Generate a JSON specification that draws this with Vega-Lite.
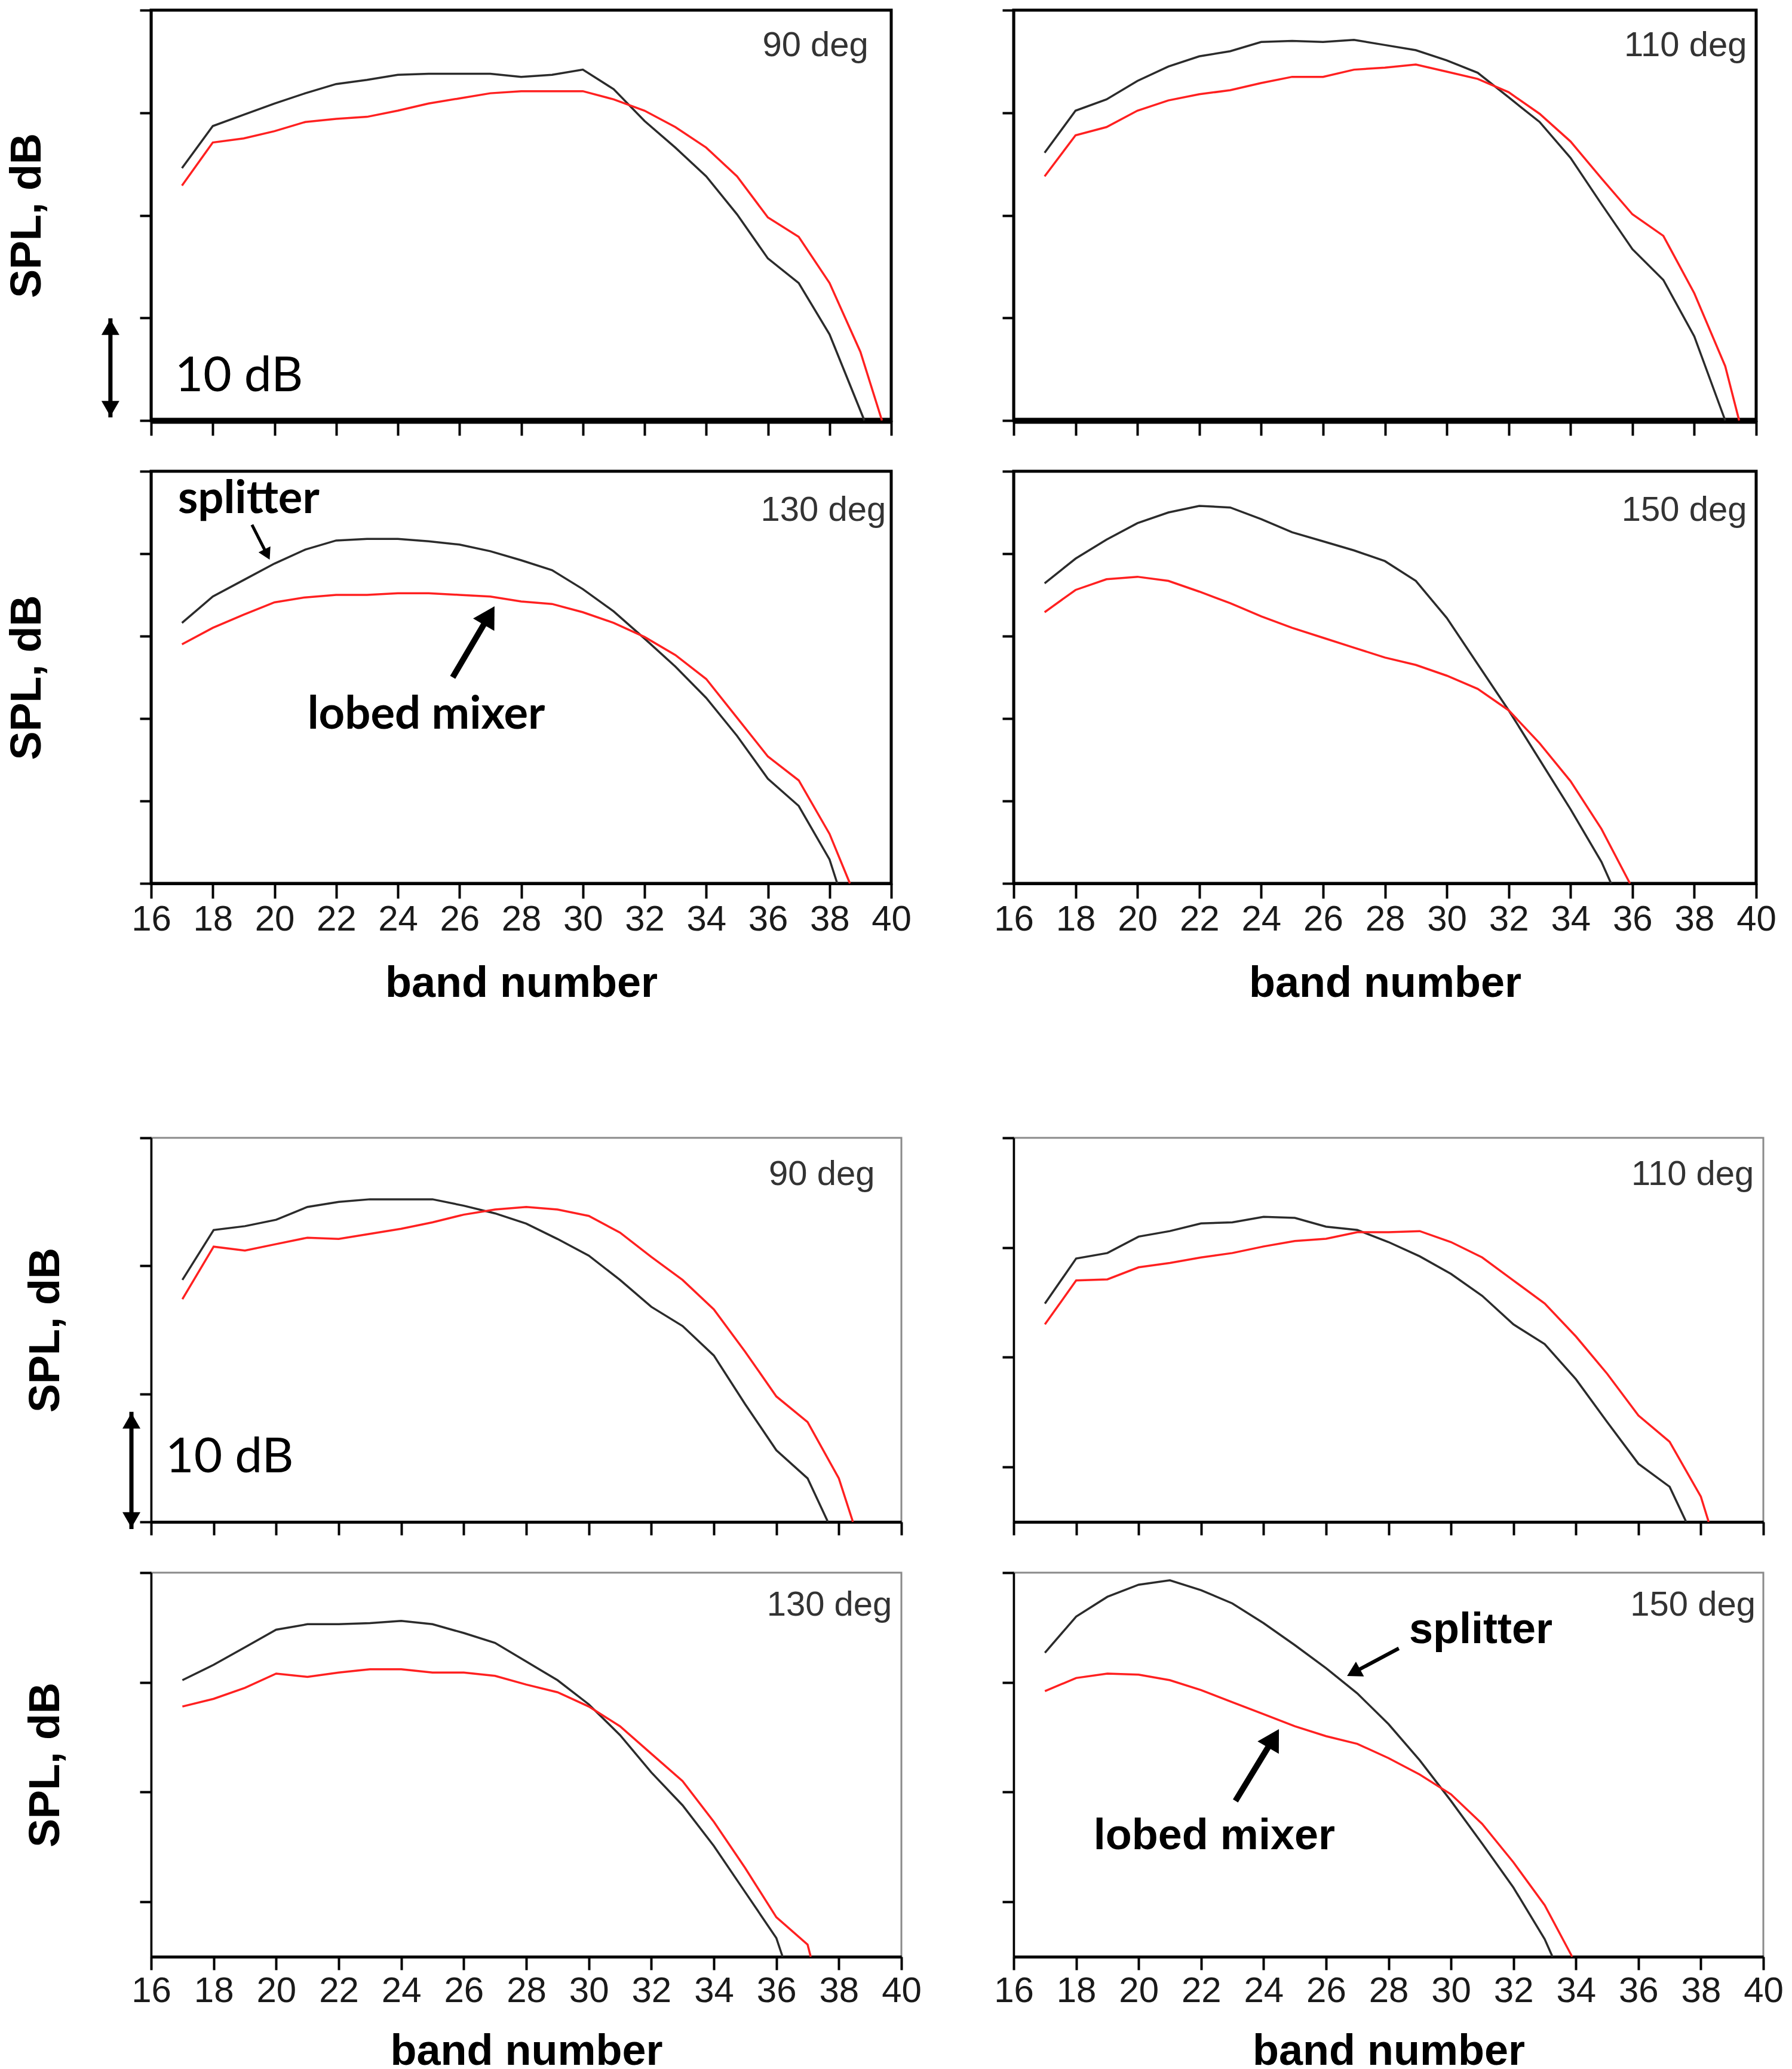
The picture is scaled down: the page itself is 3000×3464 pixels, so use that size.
{
  "$schema": "https://vega.github.io/schema/vega-lite/v6.json",
  "padding": {"left": 6, "top": 12, "right": 0, "bottom": 0},
  "background": "white",
  "config": {
    "axis": {
      "grid": false,
      "tickColor": "#000",
      "domainColor": "#000",
      "labelFont": "Liberation Sans",
      "labelFontSize": 60,
      "labelColor": "#1a1a1a",
      "labelFlush": false,
      "labelOverlap": false,
      "labelPadding": 6,
      "titleFont": "Liberation Sans",
      "titleFontWeight": "bold",
      "titleFontSize": 72,
      "titleColor": "#000"
    },
    "view": {"stroke": "#000", "strokeWidth": 4}
  },
  "datasets": {
    "A_splitter": [
      {"band": 17, "db": 24.6}, {"band": 18, "db": 28.7}, {"band": 19, "db": 29.8}, {"band": 20, "db": 30.9},
      {"band": 21, "db": 31.9}, {"band": 22, "db": 32.8}, {"band": 23, "db": 33.2}, {"band": 24, "db": 33.7},
      {"band": 25, "db": 33.8}, {"band": 26, "db": 33.8}, {"band": 27, "db": 33.8}, {"band": 28, "db": 33.5},
      {"band": 29, "db": 33.7}, {"band": 30, "db": 34.2}, {"band": 31, "db": 32.3}, {"band": 32, "db": 29.2},
      {"band": 33, "db": 26.6}, {"band": 34, "db": 23.8}, {"band": 35, "db": 20.1}, {"band": 36, "db": 15.8},
      {"band": 37, "db": 13.4}, {"band": 38, "db": 8.4}, {"band": 39.13, "db": 0}
    ],
    "A_lobed": [
      {"band": 17, "db": 22.9}, {"band": 18, "db": 27.1}, {"band": 19, "db": 27.5}, {"band": 20, "db": 28.2},
      {"band": 21, "db": 29.1}, {"band": 22, "db": 29.4}, {"band": 23, "db": 29.6}, {"band": 24, "db": 30.2},
      {"band": 25, "db": 30.9}, {"band": 26, "db": 31.4}, {"band": 27, "db": 31.9}, {"band": 28, "db": 32.1},
      {"band": 29, "db": 32.1}, {"band": 30, "db": 32.1}, {"band": 31, "db": 31.3}, {"band": 32, "db": 30.2},
      {"band": 33, "db": 28.6}, {"band": 34, "db": 26.6}, {"band": 35, "db": 23.8}, {"band": 36, "db": 19.8},
      {"band": 37, "db": 17.9}, {"band": 38, "db": 13.4}, {"band": 39, "db": 6.7}, {"band": 39.7, "db": 0}
    ],
    "B_splitter": [
      {"band": 17, "db": 26.1}, {"band": 18, "db": 30.2}, {"band": 19, "db": 31.3}, {"band": 20, "db": 33.1},
      {"band": 21, "db": 34.5}, {"band": 22, "db": 35.5}, {"band": 23, "db": 36.0}, {"band": 24, "db": 36.9},
      {"band": 25, "db": 37.0}, {"band": 26, "db": 36.9}, {"band": 27, "db": 37.1}, {"band": 28, "db": 36.6},
      {"band": 29, "db": 36.1}, {"band": 30, "db": 35.1}, {"band": 31, "db": 33.9}, {"band": 32, "db": 31.5},
      {"band": 33, "db": 29.1}, {"band": 34, "db": 25.6}, {"band": 35, "db": 21.1}, {"band": 36, "db": 16.7},
      {"band": 37, "db": 13.7}, {"band": 38, "db": 8.2}, {"band": 39, "db": 0}
    ],
    "B_lobed": [
      {"band": 17, "db": 23.8}, {"band": 18, "db": 27.8}, {"band": 19, "db": 28.6}, {"band": 20, "db": 30.2},
      {"band": 21, "db": 31.2}, {"band": 22, "db": 31.8}, {"band": 23, "db": 32.2}, {"band": 24, "db": 32.9},
      {"band": 25, "db": 33.5}, {"band": 26, "db": 33.5}, {"band": 27, "db": 34.2}, {"band": 28, "db": 34.4},
      {"band": 29, "db": 34.7}, {"band": 30, "db": 34.0}, {"band": 31, "db": 33.3}, {"band": 32, "db": 32.0},
      {"band": 33, "db": 29.9}, {"band": 34, "db": 27.2}, {"band": 35, "db": 23.6}, {"band": 36, "db": 20.1},
      {"band": 37, "db": 18.0}, {"band": 38, "db": 12.4}, {"band": 39, "db": 5.3}, {"band": 39.45, "db": 0}
    ],
    "C_splitter": [
      {"band": 17, "db": 31.6}, {"band": 18, "db": 34.8}, {"band": 19, "db": 36.8}, {"band": 20, "db": 38.8},
      {"band": 21, "db": 40.5}, {"band": 22, "db": 41.6}, {"band": 23, "db": 41.8}, {"band": 24, "db": 41.8},
      {"band": 25, "db": 41.5}, {"band": 26, "db": 41.1}, {"band": 27, "db": 40.3}, {"band": 28, "db": 39.2},
      {"band": 29, "db": 38.0}, {"band": 30, "db": 35.7}, {"band": 31, "db": 33.0}, {"band": 32, "db": 29.7},
      {"band": 33, "db": 26.3}, {"band": 34, "db": 22.5}, {"band": 35, "db": 17.9}, {"band": 36, "db": 12.7},
      {"band": 37, "db": 9.4}, {"band": 38, "db": 2.9}, {"band": 38.25, "db": 0}
    ],
    "C_lobed": [
      {"band": 17, "db": 29.0}, {"band": 18, "db": 31.0}, {"band": 19, "db": 32.6}, {"band": 20, "db": 34.1},
      {"band": 21, "db": 34.7}, {"band": 22, "db": 35.0}, {"band": 23, "db": 35.0}, {"band": 24, "db": 35.2},
      {"band": 25, "db": 35.2}, {"band": 26, "db": 35.0}, {"band": 27, "db": 34.8}, {"band": 28, "db": 34.2},
      {"band": 29, "db": 33.9}, {"band": 30, "db": 32.9}, {"band": 31, "db": 31.6}, {"band": 32, "db": 29.9},
      {"band": 33, "db": 27.7}, {"band": 34, "db": 24.8}, {"band": 35, "db": 20.1}, {"band": 36, "db": 15.4},
      {"band": 37, "db": 12.5}, {"band": 38, "db": 6.0}, {"band": 38.66, "db": 0}
    ],
    "D_splitter": [
      {"band": 17, "db": 36.4}, {"band": 18, "db": 39.4}, {"band": 19, "db": 41.7}, {"band": 20, "db": 43.7},
      {"band": 21, "db": 45.0}, {"band": 22, "db": 45.8}, {"band": 23, "db": 45.6}, {"band": 24, "db": 44.2},
      {"band": 25, "db": 42.6}, {"band": 26, "db": 41.5}, {"band": 27, "db": 40.4}, {"band": 28, "db": 39.1},
      {"band": 29, "db": 36.7}, {"band": 30, "db": 32.2}, {"band": 31, "db": 26.6}, {"band": 32, "db": 21.0},
      {"band": 33, "db": 15.0}, {"band": 34, "db": 9.0}, {"band": 35, "db": 2.6}, {"band": 35.31, "db": 0}
    ],
    "D_lobed": [
      {"band": 17, "db": 32.9}, {"band": 18, "db": 35.6}, {"band": 19, "db": 36.9}, {"band": 20, "db": 37.2},
      {"band": 21, "db": 36.7}, {"band": 22, "db": 35.4}, {"band": 23, "db": 34.0}, {"band": 24, "db": 32.4},
      {"band": 25, "db": 31.0}, {"band": 26, "db": 29.8}, {"band": 27, "db": 28.6}, {"band": 28, "db": 27.4},
      {"band": 29, "db": 26.5}, {"band": 30, "db": 25.2}, {"band": 31, "db": 23.6}, {"band": 32, "db": 21.0},
      {"band": 33, "db": 17.0}, {"band": 34, "db": 12.4}, {"band": 35, "db": 6.6}, {"band": 35.92, "db": 0}
    ],
    "E_splitter": [
      {"band": 17, "db": 18.9}, {"band": 18, "db": 22.8}, {"band": 19, "db": 23.1}, {"band": 20, "db": 23.6},
      {"band": 21, "db": 24.6}, {"band": 22, "db": 25.0}, {"band": 23, "db": 25.2}, {"band": 24, "db": 25.2},
      {"band": 25, "db": 25.2}, {"band": 26, "db": 24.7}, {"band": 27, "db": 24.1}, {"band": 28, "db": 23.3},
      {"band": 29, "db": 22.1}, {"band": 30, "db": 20.8}, {"band": 31, "db": 18.9}, {"band": 32, "db": 16.8},
      {"band": 33, "db": 15.3}, {"band": 34, "db": 13.0}, {"band": 35, "db": 9.2}, {"band": 36, "db": 5.6},
      {"band": 37, "db": 3.4}, {"band": 37.65, "db": 0}
    ],
    "E_lobed": [
      {"band": 17, "db": 17.4}, {"band": 18, "db": 21.5}, {"band": 19, "db": 21.2}, {"band": 20, "db": 21.7},
      {"band": 21, "db": 22.2}, {"band": 22, "db": 22.1}, {"band": 23, "db": 22.5}, {"band": 24, "db": 22.9},
      {"band": 25, "db": 23.4}, {"band": 26, "db": 24.0}, {"band": 27, "db": 24.4}, {"band": 28, "db": 24.6},
      {"band": 29, "db": 24.4}, {"band": 30, "db": 23.9}, {"band": 31, "db": 22.6}, {"band": 32, "db": 20.7},
      {"band": 33, "db": 18.9}, {"band": 34, "db": 16.6}, {"band": 35, "db": 13.3}, {"band": 36, "db": 9.8},
      {"band": 37, "db": 7.8}, {"band": 38, "db": 3.4}, {"band": 38.45, "db": 0}
    ],
    "F_splitter": [
      {"band": 17, "db": 19.9}, {"band": 18, "db": 24.0}, {"band": 19, "db": 24.5}, {"band": 20, "db": 26.0},
      {"band": 21, "db": 26.5}, {"band": 22, "db": 27.2}, {"band": 23, "db": 27.3}, {"band": 24, "db": 27.8},
      {"band": 25, "db": 27.7}, {"band": 26, "db": 26.9}, {"band": 27, "db": 26.6}, {"band": 28, "db": 25.5},
      {"band": 29, "db": 24.2}, {"band": 30, "db": 22.6}, {"band": 31, "db": 20.6}, {"band": 32, "db": 18.0},
      {"band": 33, "db": 16.2}, {"band": 34, "db": 13.0}, {"band": 35, "db": 9.1}, {"band": 36, "db": 5.3},
      {"band": 37, "db": 3.2}, {"band": 37.53, "db": 0}
    ],
    "F_lobed": [
      {"band": 17, "db": 18.0}, {"band": 18, "db": 22.0}, {"band": 19, "db": 22.1}, {"band": 20, "db": 23.2},
      {"band": 21, "db": 23.6}, {"band": 22, "db": 24.1}, {"band": 23, "db": 24.5}, {"band": 24, "db": 25.1},
      {"band": 25, "db": 25.6}, {"band": 26, "db": 25.8}, {"band": 27, "db": 26.4}, {"band": 28, "db": 26.4},
      {"band": 29, "db": 26.5}, {"band": 30, "db": 25.5}, {"band": 31, "db": 24.1}, {"band": 32, "db": 22.0},
      {"band": 33, "db": 19.9}, {"band": 34, "db": 16.9}, {"band": 35, "db": 13.5}, {"band": 36, "db": 9.7},
      {"band": 37, "db": 7.3}, {"band": 38, "db": 2.3}, {"band": 38.25, "db": 0}
    ],
    "G_splitter": [
      {"band": 17, "db": 25.2}, {"band": 18, "db": 26.6}, {"band": 19, "db": 28.2}, {"band": 20, "db": 29.8},
      {"band": 21, "db": 30.3}, {"band": 22, "db": 30.3}, {"band": 23, "db": 30.4}, {"band": 24, "db": 30.6},
      {"band": 25, "db": 30.3}, {"band": 26, "db": 29.5}, {"band": 27, "db": 28.6}, {"band": 28, "db": 26.9},
      {"band": 29, "db": 25.2}, {"band": 30, "db": 23.0}, {"band": 31, "db": 20.2}, {"band": 32, "db": 16.8},
      {"band": 33, "db": 13.8}, {"band": 34, "db": 10.1}, {"band": 35, "db": 5.9}, {"band": 36, "db": 1.7},
      {"band": 36.2, "db": 0}
    ],
    "G_lobed": [
      {"band": 17, "db": 22.8}, {"band": 18, "db": 23.5}, {"band": 19, "db": 24.5}, {"band": 20, "db": 25.8},
      {"band": 21, "db": 25.5}, {"band": 22, "db": 25.9}, {"band": 23, "db": 26.2}, {"band": 24, "db": 26.2},
      {"band": 25, "db": 25.9}, {"band": 26, "db": 25.9}, {"band": 27, "db": 25.6}, {"band": 28, "db": 24.8},
      {"band": 29, "db": 24.1}, {"band": 30, "db": 22.8}, {"band": 31, "db": 21.0}, {"band": 32, "db": 18.5},
      {"band": 33, "db": 16.0}, {"band": 34, "db": 12.3}, {"band": 35, "db": 8.1}, {"band": 36, "db": 3.6},
      {"band": 37, "db": 1.1}, {"band": 37.1, "db": 0}
    ],
    "H_splitter": [
      {"band": 17, "db": 27.7}, {"band": 18, "db": 31.0}, {"band": 19, "db": 32.8}, {"band": 20, "db": 33.9},
      {"band": 21, "db": 34.3}, {"band": 22, "db": 33.4}, {"band": 23, "db": 32.2}, {"band": 24, "db": 30.4},
      {"band": 25, "db": 28.4}, {"band": 26, "db": 26.3}, {"band": 27, "db": 24.0}, {"band": 28, "db": 21.2},
      {"band": 29, "db": 17.9}, {"band": 30, "db": 14.2}, {"band": 31, "db": 10.3}, {"band": 32, "db": 6.3},
      {"band": 33, "db": 1.6}, {"band": 33.25, "db": 0}
    ],
    "H_lobed": [
      {"band": 17, "db": 24.2}, {"band": 18, "db": 25.4}, {"band": 19, "db": 25.8}, {"band": 20, "db": 25.7},
      {"band": 21, "db": 25.2}, {"band": 22, "db": 24.3}, {"band": 23, "db": 23.2}, {"band": 24, "db": 22.1},
      {"band": 25, "db": 21.0}, {"band": 26, "db": 20.1}, {"band": 27, "db": 19.4}, {"band": 28, "db": 18.1},
      {"band": 29, "db": 16.6}, {"band": 30, "db": 14.8}, {"band": 31, "db": 12.1}, {"band": 32, "db": 8.6},
      {"band": 33, "db": 4.7}, {"band": 33.88, "db": 0}
    ],
    "notes": [
      {"p": "A", "k": "tag", "t": "90 deg", "band": 39.26, "db": 36.5},
      {"p": "B", "k": "tag", "t": "110 deg", "band": 39.7, "db": 36.5},
      {"p": "C", "k": "tag", "t": "130 deg", "band": 39.83, "db": 45.2},
      {"p": "D", "k": "tag", "t": "150 deg", "band": 39.7, "db": 45.2},
      {"p": "E", "k": "tag", "t": "90 deg", "band": 39.15, "db": 27.1},
      {"p": "F", "k": "tag", "t": "110 deg", "band": 39.7, "db": 31.6},
      {"p": "G", "k": "tag", "t": "130 deg", "band": 39.7, "db": 32.0},
      {"p": "H", "k": "tag", "t": "150 deg", "band": 39.75, "db": 32.0},
      {"p": "A", "k": "scale", "t": "10 dB", "band": 16.77, "db": 2.85},
      {"p": "A", "k": "bar", "band": 14.68, "db": 0.3, "band2": 14.68, "db2": 9.95},
      {"p": "A", "k": "up", "band": 14.68, "db": 9.1},
      {"p": "A", "k": "down", "band": 14.68, "db": 1.15},
      {"p": "E", "k": "scale", "t": "10 dB", "band": 16.46, "db": 3.86},
      {"p": "E", "k": "bar", "band": 15.37, "db": -0.56, "band2": 15.37, "db2": 8.6},
      {"p": "E", "k": "up", "band": 15.37, "db": 7.9},
      {"p": "E", "k": "down", "band": 15.37, "db": 0.15},
      {"p": "C", "k": "name", "t": "splitter", "band": 16.87, "db": 44.9},
      {"p": "C", "k": "name", "t": "lobed mixer", "band": 21.07, "db": 18.8},
      {"p": "C", "k": "shaft_s", "band": 19.27, "db": 43.5, "band2": 19.76, "db2": 39.9},
      {"p": "C", "k": "head_s", "band": 19.76, "db": 39.9},
      {"p": "C", "k": "shaft_m", "band": 25.78, "db": 25.0, "band2": 26.96, "db2": 32.5},
      {"p": "C", "k": "head_m", "band": 26.96, "db": 32.5},
      {"p": "H", "k": "name", "t": "splitter", "band": 28.66, "db": 28.6},
      {"p": "H", "k": "name", "t": "lobed mixer", "band": 18.56, "db": 9.8},
      {"p": "H", "k": "shaft_s", "band": 28.33, "db": 28.1, "band2": 26.88, "db2": 25.9},
      {"p": "H", "k": "head_s", "band": 26.88, "db": 25.9},
      {"p": "H", "k": "shaft_m", "band": 23.1, "db": 14.2, "band2": 24.32, "db2": 19.9},
      {"p": "H", "k": "head_m", "band": 24.32, "db": 19.9}
    ]
  },
  "columns": 2,
  "bounds": "flush",
  "align": "each",
  "spacing": {"row": 85, "column": 188},
  "concat": [
    {
      "width": 1239, "height": 687,
      "view": {"stroke": "#000", "strokeWidth": 5},
      "encoding": {
        "x": {"field": "band", "type": "quantitative", "scale": {"domain": [16, 40], "nice": false, "zero": false},
          "axis": {"values": [16, 18, 20, 22, 24, 26, 28, 30, 32, 34, 36, 38, 40], "labels": false, "title": null, "tickSize": 25, "tickWidth": 4, "domainWidth": 10}},
        "y": {"field": "db", "type": "quantitative", "scale": {"domain": [0, 40], "nice": false},
          "axis": {"values": [0, 10, 20, 30, 40], "labels": false, "tickSize": 19, "tickWidth": 4, "domainWidth": 3.5, "title": "SPL, dB", "titlePadding": 150}}
      },
      "layer": [
        {"data": {"name": "A_splitter"}, "mark": {"type": "line", "color": "#2b2b2b", "strokeWidth": 3.5}},
        {"data": {"name": "A_lobed"}, "mark": {"type": "line", "color": "#ff2020", "strokeWidth": 3.5}},
        {"data": {"name": "notes"}, "transform": [{"filter": "datum.p === 'A' && datum.k === 'tag'"}],
          "mark": {"type": "text", "align": "right", "baseline": "middle", "font": "Liberation Sans", "fontSize": 58, "color": "#333"},
          "encoding": {"text": {"field": "t"}}},
        {"data": {"name": "notes"}, "transform": [{"filter": "datum.p === 'A' && datum.k === 'scale'"}],
          "mark": {"type": "text", "align": "left", "baseline": "alphabetic", "font": "Lato", "fontSize": 82, "color": "#000"},
          "encoding": {"text": {"field": "t"}}},
        {"data": {"name": "notes"}, "transform": [{"filter": "datum.p === 'A' && datum.k === 'bar'"}],
          "mark": {"type": "rule", "color": "#000", "strokeWidth": 7},
          "encoding": {"x2": {"field": "band2"}, "y2": {"field": "db2"}}},
        {"data": {"name": "notes"}, "transform": [{"filter": "datum.p === 'A' && datum.k === 'up'"}],
          "mark": {"type": "point", "shape": "triangle-up", "filled": true, "opacity": 1, "color": "#000", "size": 900}},
        {"data": {"name": "notes"}, "transform": [{"filter": "datum.p === 'A' && datum.k === 'down'"}],
          "mark": {"type": "point", "shape": "triangle-down", "filled": true, "opacity": 1, "color": "#000", "size": 900}}
      ]
    },
    {
      "width": 1243, "height": 687,
      "view": {"stroke": "#000", "strokeWidth": 5},
      "encoding": {
        "x": {"field": "band", "type": "quantitative", "scale": {"domain": [16, 40], "nice": false, "zero": false},
          "axis": {"values": [16, 18, 20, 22, 24, 26, 28, 30, 32, 34, 36, 38, 40], "labels": false, "title": null, "tickSize": 25, "tickWidth": 4, "domainWidth": 10}},
        "y": {"field": "db", "type": "quantitative", "scale": {"domain": [0, 40], "nice": false},
          "axis": {"values": [0, 10, 20, 30, 40], "labels": false, "tickSize": 19, "tickWidth": 4, "domainWidth": 3.5, "title": null}}
      },
      "layer": [
        {"data": {"name": "B_splitter"}, "mark": {"type": "line", "color": "#2b2b2b", "strokeWidth": 3.5}},
        {"data": {"name": "B_lobed"}, "mark": {"type": "line", "color": "#ff2020", "strokeWidth": 3.5}},
        {"data": {"name": "notes"}, "transform": [{"filter": "datum.p === 'B' && datum.k === 'tag'"}],
          "mark": {"type": "text", "align": "right", "baseline": "middle", "font": "Liberation Sans", "fontSize": 58, "color": "#333"},
          "encoding": {"text": {"field": "t"}}}
      ]
    },
    {
      "width": 1239, "height": 690,
      "view": {"stroke": "#000", "strokeWidth": 5},
      "encoding": {
        "x": {"field": "band", "type": "quantitative", "scale": {"domain": [16, 40], "nice": false, "zero": false},
          "axis": {"values": [16, 18, 20, 22, 24, 26, 28, 30, 32, 34, 36, 38, 40], "tickSize": 25, "tickWidth": 4, "domainWidth": 5, "title": "band number", "titlePadding": 42}},
        "y": {"field": "db", "type": "quantitative", "scale": {"domain": [0, 50], "nice": false},
          "axis": {"values": [0, 10, 20, 30, 40, 50], "labels": false, "tickSize": 19, "tickWidth": 4, "domainWidth": 3.5, "title": "SPL, dB", "titlePadding": 150}}
      },
      "layer": [
        {"data": {"name": "C_splitter"}, "mark": {"type": "line", "color": "#2b2b2b", "strokeWidth": 3.5}},
        {"data": {"name": "C_lobed"}, "mark": {"type": "line", "color": "#ff2020", "strokeWidth": 3.5}},
        {"data": {"name": "notes"}, "transform": [{"filter": "datum.p === 'C' && datum.k === 'tag'"}],
          "mark": {"type": "text", "align": "right", "baseline": "middle", "font": "Liberation Sans", "fontSize": 58, "color": "#333"},
          "encoding": {"text": {"field": "t"}}},
        {"data": {"name": "notes"}, "transform": [{"filter": "datum.p === 'C' && datum.k === 'name'"}],
          "mark": {"type": "text", "align": "left", "baseline": "alphabetic", "font": "Lato", "fontWeight": "bold", "fontSize": 76, "color": "#000"},
          "encoding": {"text": {"field": "t"}}},
        {"data": {"name": "notes"}, "transform": [{"filter": "datum.p === 'C' && datum.k === 'shaft_s'"}],
          "mark": {"type": "rule", "color": "#000", "strokeWidth": 5},
          "encoding": {"x2": {"field": "band2"}, "y2": {"field": "db2"}}},
        {"data": {"name": "notes"}, "transform": [{"filter": "datum.p === 'C' && datum.k === 'head_s'"}],
          "mark": {"type": "point", "shape": "triangle-up", "filled": true, "opacity": 1, "color": "#000", "size": 500, "angle": 153.4}},
        {"data": {"name": "notes"}, "transform": [{"filter": "datum.p === 'C' && datum.k === 'shaft_m'"}],
          "mark": {"type": "rule", "color": "#000", "strokeWidth": 10},
          "encoding": {"x2": {"field": "band2"}, "y2": {"field": "db2"}}},
        {"data": {"name": "notes"}, "transform": [{"filter": "datum.p === 'C' && datum.k === 'head_m'"}],
          "mark": {"type": "point", "shape": "triangle-up", "filled": true, "opacity": 1, "color": "#000", "size": 1700, "angle": 30.5}}
      ]
    },
    {
      "width": 1243, "height": 690,
      "view": {"stroke": "#000", "strokeWidth": 5},
      "encoding": {
        "x": {"field": "band", "type": "quantitative", "scale": {"domain": [16, 40], "nice": false, "zero": false},
          "axis": {"values": [16, 18, 20, 22, 24, 26, 28, 30, 32, 34, 36, 38, 40], "tickSize": 25, "tickWidth": 4, "domainWidth": 5, "title": "band number", "titlePadding": 42}},
        "y": {"field": "db", "type": "quantitative", "scale": {"domain": [0, 50], "nice": false},
          "axis": {"values": [0, 10, 20, 30, 40, 50], "labels": false, "tickSize": 19, "tickWidth": 4, "domainWidth": 3.5, "title": null}}
      },
      "layer": [
        {"data": {"name": "D_splitter"}, "mark": {"type": "line", "color": "#2b2b2b", "strokeWidth": 3.5}},
        {"data": {"name": "D_lobed"}, "mark": {"type": "line", "color": "#ff2020", "strokeWidth": 3.5}},
        {"data": {"name": "notes"}, "transform": [{"filter": "datum.p === 'D' && datum.k === 'tag'"}],
          "mark": {"type": "text", "align": "right", "baseline": "middle", "font": "Liberation Sans", "fontSize": 58, "color": "#333"},
          "encoding": {"text": {"field": "t"}}}
      ]
    },
    {
      "width": 10, "height": 256, "view": {"stroke": null},
      "data": {"values": []}, "mark": "point", "encoding": {}
    },
    {
      "width": 10, "height": 256, "view": {"stroke": null},
      "data": {"values": []}, "mark": "point", "encoding": {}
    },
    {
      "width": 1256, "height": 643,
      "view": {"stroke": "#8a8a8a", "strokeWidth": 3},
      "encoding": {
        "x": {"field": "band", "type": "quantitative", "scale": {"domain": [16, 40], "nice": false, "zero": false},
          "axis": {"values": [16, 18, 20, 22, 24, 26, 28, 30, 32, 34, 36, 38, 40], "labels": false, "title": null, "tickSize": 22, "tickWidth": 4, "domainWidth": 5}},
        "y": {"field": "db", "type": "quantitative", "scale": {"domain": [0, 30], "nice": false},
          "axis": {"values": [0, 10, 20, 30], "labels": false, "tickSize": 19, "tickWidth": 4, "domainWidth": 3.5, "title": "SPL, dB", "titlePadding": 119}}
      },
      "layer": [
        {"data": {"name": "E_splitter"}, "mark": {"type": "line", "color": "#2b2b2b", "strokeWidth": 3.5}},
        {"data": {"name": "E_lobed"}, "mark": {"type": "line", "color": "#ff2020", "strokeWidth": 3.5}},
        {"data": {"name": "notes"}, "transform": [{"filter": "datum.p === 'E' && datum.k === 'tag'"}],
          "mark": {"type": "text", "align": "right", "baseline": "middle", "font": "Liberation Sans", "fontSize": 58, "color": "#333"},
          "encoding": {"text": {"field": "t"}}},
        {"data": {"name": "notes"}, "transform": [{"filter": "datum.p === 'E' && datum.k === 'scale'"}],
          "mark": {"type": "text", "align": "left", "baseline": "alphabetic", "font": "Lato", "fontSize": 82, "color": "#000"},
          "encoding": {"text": {"field": "t"}}},
        {"data": {"name": "notes"}, "transform": [{"filter": "datum.p === 'E' && datum.k === 'bar'"}],
          "mark": {"type": "rule", "color": "#000", "strokeWidth": 7},
          "encoding": {"x2": {"field": "band2"}, "y2": {"field": "db2"}}},
        {"data": {"name": "notes"}, "transform": [{"filter": "datum.p === 'E' && datum.k === 'up'"}],
          "mark": {"type": "point", "shape": "triangle-up", "filled": true, "opacity": 1, "color": "#000", "size": 900}},
        {"data": {"name": "notes"}, "transform": [{"filter": "datum.p === 'E' && datum.k === 'down'"}],
          "mark": {"type": "point", "shape": "triangle-down", "filled": true, "opacity": 1, "color": "#000", "size": 900}}
      ]
    },
    {
      "width": 1255, "height": 643,
      "view": {"stroke": "#8a8a8a", "strokeWidth": 3},
      "encoding": {
        "x": {"field": "band", "type": "quantitative", "scale": {"domain": [16, 40], "nice": false, "zero": false},
          "axis": {"values": [16, 18, 20, 22, 24, 26, 28, 30, 32, 34, 36, 38, 40], "labels": false, "title": null, "tickSize": 22, "tickWidth": 4, "domainWidth": 5}},
        "y": {"field": "db", "type": "quantitative", "scale": {"domain": [0, 35], "nice": false},
          "axis": {"values": [5, 15, 25, 35], "labels": false, "tickSize": 19, "tickWidth": 4, "domainWidth": 3.5, "title": null}}
      },
      "layer": [
        {"data": {"name": "F_splitter"}, "mark": {"type": "line", "color": "#2b2b2b", "strokeWidth": 3.5}},
        {"data": {"name": "F_lobed"}, "mark": {"type": "line", "color": "#ff2020", "strokeWidth": 3.5}},
        {"data": {"name": "notes"}, "transform": [{"filter": "datum.p === 'F' && datum.k === 'tag'"}],
          "mark": {"type": "text", "align": "right", "baseline": "middle", "font": "Liberation Sans", "fontSize": 58, "color": "#333"},
          "encoding": {"text": {"field": "t"}}}
      ]
    },
    {
      "width": 1256, "height": 643,
      "view": {"stroke": "#8a8a8a", "strokeWidth": 3},
      "encoding": {
        "x": {"field": "band", "type": "quantitative", "scale": {"domain": [16, 40], "nice": false, "zero": false},
          "axis": {"values": [16, 18, 20, 22, 24, 26, 28, 30, 32, 34, 36, 38, 40], "tickSize": 22, "tickWidth": 4, "domainWidth": 5, "title": "band number", "titlePadding": 36}},
        "y": {"field": "db", "type": "quantitative", "scale": {"domain": [0, 35], "nice": false},
          "axis": {"values": [5, 15, 25, 35], "labels": false, "tickSize": 19, "tickWidth": 4, "domainWidth": 3.5, "title": "SPL, dB", "titlePadding": 119}}
      },
      "layer": [
        {"data": {"name": "G_splitter"}, "mark": {"type": "line", "color": "#2b2b2b", "strokeWidth": 3.5}},
        {"data": {"name": "G_lobed"}, "mark": {"type": "line", "color": "#ff2020", "strokeWidth": 3.5}},
        {"data": {"name": "notes"}, "transform": [{"filter": "datum.p === 'G' && datum.k === 'tag'"}],
          "mark": {"type": "text", "align": "right", "baseline": "middle", "font": "Liberation Sans", "fontSize": 58, "color": "#333"},
          "encoding": {"text": {"field": "t"}}}
      ]
    },
    {
      "width": 1255, "height": 643,
      "view": {"stroke": "#8a8a8a", "strokeWidth": 3},
      "encoding": {
        "x": {"field": "band", "type": "quantitative", "scale": {"domain": [16, 40], "nice": false, "zero": false},
          "axis": {"values": [16, 18, 20, 22, 24, 26, 28, 30, 32, 34, 36, 38, 40], "tickSize": 22, "tickWidth": 4, "domainWidth": 5, "title": "band number", "titlePadding": 36}},
        "y": {"field": "db", "type": "quantitative", "scale": {"domain": [0, 35], "nice": false},
          "axis": {"values": [5, 15, 25, 35], "labels": false, "tickSize": 19, "tickWidth": 4, "domainWidth": 3.5, "title": null}}
      },
      "layer": [
        {"data": {"name": "H_splitter"}, "mark": {"type": "line", "color": "#2b2b2b", "strokeWidth": 3.5}},
        {"data": {"name": "H_lobed"}, "mark": {"type": "line", "color": "#ff2020", "strokeWidth": 3.5}},
        {"data": {"name": "notes"}, "transform": [{"filter": "datum.p === 'H' && datum.k === 'tag'"}],
          "mark": {"type": "text", "align": "right", "baseline": "middle", "font": "Liberation Sans", "fontSize": 58, "color": "#333"},
          "encoding": {"text": {"field": "t"}}},
        {"data": {"name": "notes"}, "transform": [{"filter": "datum.p === 'H' && datum.k === 'name'"}],
          "mark": {"type": "text", "align": "left", "baseline": "alphabetic", "font": "Liberation Sans", "fontWeight": "bold", "fontSize": 72, "color": "#000"},
          "encoding": {"text": {"field": "t"}}},
        {"data": {"name": "notes"}, "transform": [{"filter": "datum.p === 'H' && datum.k === 'shaft_s'"}],
          "mark": {"type": "rule", "color": "#000", "strokeWidth": 6},
          "encoding": {"x2": {"field": "band2"}, "y2": {"field": "db2"}}},
        {"data": {"name": "notes"}, "transform": [{"filter": "datum.p === 'H' && datum.k === 'head_s'"}],
          "mark": {"type": "point", "shape": "triangle-up", "filled": true, "opacity": 1, "color": "#000", "size": 800, "angle": 241.6}},
        {"data": {"name": "notes"}, "transform": [{"filter": "datum.p === 'H' && datum.k === 'shaft_m'"}],
          "mark": {"type": "rule", "color": "#000", "strokeWidth": 10},
          "encoding": {"x2": {"field": "band2"}, "y2": {"field": "db2"}}},
        {"data": {"name": "notes"}, "transform": [{"filter": "datum.p === 'H' && datum.k === 'head_m'"}],
          "mark": {"type": "point", "shape": "triangle-up", "filled": true, "opacity": 1, "color": "#000", "size": 1700, "angle": 30.3}}
      ]
    }
  ]
}
